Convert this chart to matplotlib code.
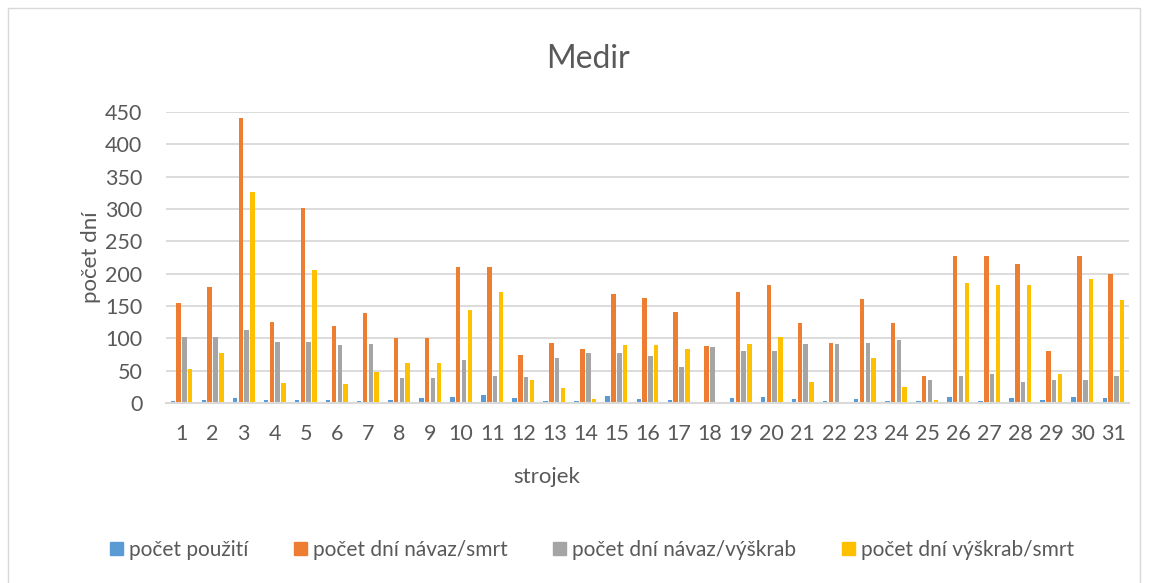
import matplotlib.pyplot as plt
import numpy as np
from matplotlib.lines import Line2D
from matplotlib.patches import Patch

plt.rcParams['font.family'] = ['Lato', 'DejaVu Sans']

# data
strojek = list(range(1, 32))
pouziti = [3, 4, 7, 4, 4, 4, 3, 4, 8, 9, 12, 7, 3, 3, 11, 6, 4, 2, 8, 10, 6, 3, 6, 3, 3, 10, 3, 8, 5, 10, 7]
navaz_smrt = [155, 180, 440, 126, 301, 119, 139, 101, 101, 211, 211, 75, 93, 84, 168, 162, 141, 88, 172, 182, 124, 93, 161, 123, 41, 227, 227, 215, 81, 227, 200]
navaz_vyskrab = [102, 102, 113, 94, 95, 90, 91, 38, 38, 67, 41, 40, 70, 78, 78, 73, 56, 87, 80, 80, 91, 91, 93, 98, 36, 41, 45, 33, 35, 36, 41]
vyskrab_smrt = [52, 77, 327, 31, 206, 29, 48, 62, 62, 144, 171, 35, 23, 6, 89, 89, 84, 2, 92, 102, 33, 2, 69, 25, 5, 186, 183, 183, 45, 191, 160]

series = [
    ("počet použití", pouziti, "#5B9BD5"),
    ("počet dní návaz/smrt", navaz_smrt, "#ED7D31"),
    ("počet dní návaz/výškrab", navaz_vyskrab, "#A5A5A5"),
    ("počet dní výškrab/smrt", vyskrab_smrt, "#FFC000"),
]

text_col = "#595959"
grid_col = "#D9D9D9"

fig = plt.figure(figsize=(11.51, 5.83), dpi=100)
ax = fig.add_axes([166 / 1151, 1 - 403 / 583, (1129 - 166) / 1151, (403 - 112) / 583])

x = np.arange(len(strojek))
pitch = 0.187
width = 0.145
for i, (name, vals, col) in enumerate(series):
    ax.bar(x + (i - 1.5) * pitch, vals, width, color=col, label=name, zorder=3)

ax.set_xlim(-0.5, len(strojek) - 0.5)
ax.set_ylim(0, 450)
ax.set_yticks(range(0, 451, 50))
ax.set_xticks(x)
ax.set_xticklabels([str(s) for s in strojek])
ax.tick_params(length=0, labelsize=15.5, colors=text_col)
ax.tick_params(axis='x', pad=15)
ax.tick_params(axis='y', pad=17)
ax.grid(axis='y', color=grid_col, linewidth=1.3, zorder=0)
for side in ['top', 'right', 'left']:
    ax.spines[side].set_visible(False)
ax.spines['bottom'].set_color(grid_col)
ax.spines['bottom'].set_linewidth(1.5)
ax.spines['bottom'].set_zorder(4)

fig.text(588 / 1151, 1 - 59 / 583, "Medir", ha='center', va='center', fontsize=23, color=text_col)
fig.text(91 / 1151, 1 - 257 / 583, "počet dní", ha='center', va='center', rotation=90, fontsize=16, color=text_col)
fig.text(547 / 1151, 1 - 477 / 583, "strojek", ha='center', va='center', fontsize=16, color=text_col)

handles = [Patch(color=c) for _, _, c in series]
fig.legend(handles, [n for n, _, _ in series], loc='center', bbox_to_anchor=(592 / 1151, 1 - 550 / 583),
           ncol=4, frameon=False, fontsize=15, labelcolor=text_col, handlelength=0.6, handleheight=0.6,
           handletextpad=0.3, columnspacing=2.2)

# chart border
border = [[8, 8, 1140, 1140], [600, 8, 8, 600]]
fig.add_artist(Line2D(np.array(border[0]) / 1151, 1 - np.array(border[1]) / 583, color=grid_col, linewidth=1))

fig.savefig("out.png", dpi=100, facecolor="white")
